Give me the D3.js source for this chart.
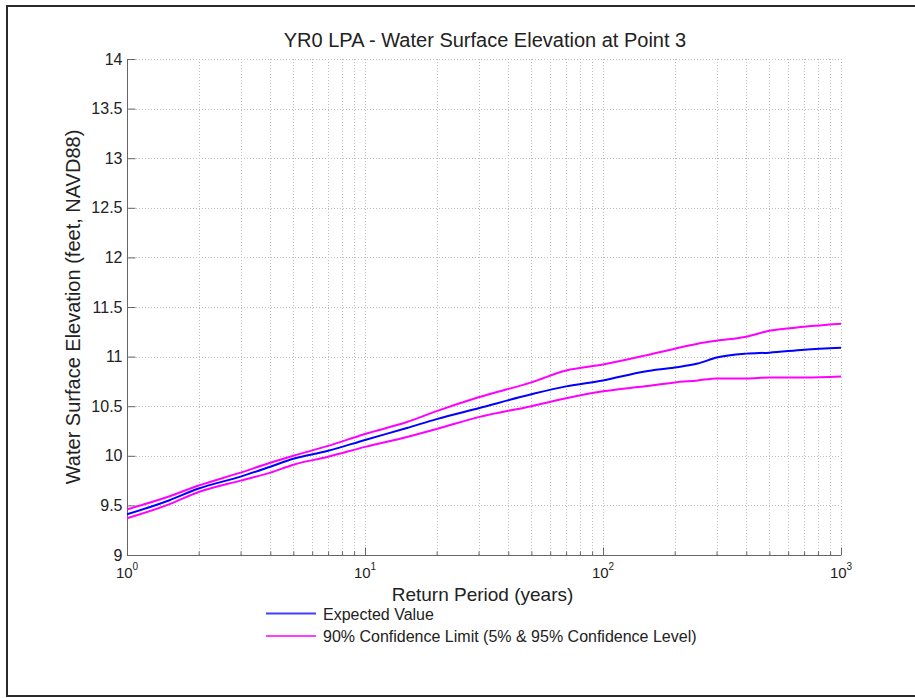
<!DOCTYPE html>
<html>
<head>
<meta charset="utf-8">
<script src="https://cdn.jsdelivr.net/npm/d3@7"></script>
<style>
  html, body { margin: 0; padding: 0; background: #fff; }
  svg { display: block; font-family: Arial, "Liberation Sans", Helvetica, sans-serif; }
</style>
</head>
<body>
<svg id="chart" width="915" height="698"></svg>
<script>
const titleText = "YR0 LPA - Water Surface Elevation at Point 3";
const xLabelText = "Return Period (years)";
const yLabelText = "Water Surface Elevation (feet, NAVD88)";

const returnPeriods = [1, 1.5, 2, 3, 4, 5, 7, 10, 15, 20, 30, 50, 70, 100, 150, 200, 250, 300, 400, 500, 700, 1000];
const expectedValue = [9.41, 9.55, 9.67, 9.79, 9.89, 9.97, 10.05, 10.16, 10.28, 10.37, 10.48, 10.62, 10.70, 10.76, 10.85, 10.89, 10.93, 10.99, 11.03, 11.04, 11.07, 11.09];
const upper95 = [9.46, 9.59, 9.70, 9.83, 9.93, 10.00, 10.10, 10.22, 10.34, 10.45, 10.59, 10.74, 10.86, 10.92, 11.01, 11.08, 11.13, 11.16, 11.20, 11.26, 11.30, 11.33];
const lower5 = [9.37, 9.51, 9.635, 9.75, 9.83, 9.91, 9.99, 10.09, 10.19, 10.27, 10.39, 10.50, 10.58, 10.65, 10.70, 10.74, 10.76, 10.78, 10.78, 10.79, 10.79, 10.80];

const yTicks = [9, 9.5, 10, 10.5, 11, 11.5, 12, 12.5, 13, 13.5, 14];
const xMajorExps = [0, 1, 2, 3];
const legendLabels = ["Expected Value", "90% Confidence Limit (5% & 95% Confidence Level)"];
const legendColors = ["#0000ff", "#ff00ff"];

const svg = d3.select("#chart");
const L = 127, R = 841, T = 59, B = 555;

const x = d3.scaleLog().domain([1, 1000]).range([L, R]);
const y = d3.scaleLinear().domain([9, 14]).range([B, T]);

// outer frame (right edge falls outside the picture)
svg.append("rect").attr("x", 7).attr("y", 6).attr("width", 1000).attr("height", 690)
  .attr("fill", "none").attr("stroke", "#2a2a2a").attr("stroke-width", 2);

// minor + major x values
const xAll = [];
for (let e = 0; e < 3; e++) for (let m = 1; m < 10; m++) xAll.push(m * Math.pow(10, e));
xAll.push(1000);

// grid
const grid = svg.append("g").attr("stroke", "#bdbdbd").attr("stroke-width", 1).attr("stroke-dasharray", "1,2");
grid.selectAll("line.gx").data(xAll.filter(v => v > 1)).join("line")
  .attr("x1", d => Math.round(x(d)) + 0.5).attr("x2", d => Math.round(x(d)) + 0.5)
  .attr("y1", T).attr("y2", B);
grid.selectAll("line.gy").data(yTicks.filter(v => v > 9)).join("line")
  .attr("x1", L).attr("x2", R)
  .attr("y1", d => Math.round(y(d)) + 0.5).attr("y2", d => Math.round(y(d)) + 0.5);

// axes
const axisColor = "#666";
const yAxis = d3.axisLeft(y).tickValues(yTicks).tickSize(-8).tickPadding(5).tickFormat(d3.format("~g"));
const gy = svg.append("g").attr("transform", `translate(${L + 0.5},0)`).call(yAxis);
gy.select(".domain").attr("stroke", axisColor).attr("d", `M0,${T}V${B}`);
gy.selectAll(".tick line").attr("stroke", axisColor);
gy.selectAll(".tick text").attr("font-size", 16).attr("fill", "#222").attr("font-family", "Arial, 'Liberation Sans', sans-serif");

const majorVals = xMajorExps.map(e => Math.pow(10, e));
const xAxisMinor = d3.axisBottom(x).tickValues(xAll.filter(v => !majorVals.includes(v))).tickSize(-4).tickFormat("");
const gxm = svg.append("g").attr("transform", `translate(0,${B + 0.5})`).call(xAxisMinor);
gxm.select(".domain").remove();
gxm.selectAll(".tick line").attr("stroke", axisColor);

const xAxis = d3.axisBottom(x).tickValues(majorVals).tickSize(-8).tickFormat("");
const gx = svg.append("g").attr("transform", `translate(0,${B + 0.5})`).call(xAxis);
gx.select(".domain").attr("stroke", axisColor).attr("d", `M${L},0H${R}`);
gx.selectAll(".tick line").attr("stroke", axisColor);

// x tick labels 10^n
const xl = svg.append("g").attr("fill", "#222").attr("font-family", "Arial, 'Liberation Sans', sans-serif");
xMajorExps.forEach(e => {
  const t = xl.append("text").attr("x", x(Math.pow(10, e))).attr("y", 578).attr("text-anchor", "middle").attr("font-size", 15);
  t.append("tspan").text("10");
  t.append("tspan").attr("font-size", 10).attr("dy", -8).text(e);
});

// lines
const line = d3.line().x(d => x(d[0])).y(d => y(d[1])).curve(d3.curveMonotoneX);
const series = [
  { vals: upper95, color: "#ff00ff" },
  { vals: lower5, color: "#ff00ff" },
  { vals: expectedValue, color: "#0000ff" }
];
svg.append("g").selectAll("path").data(series).join("path")
  .attr("d", s => line(returnPeriods.map((p, i) => [p, s.vals[i]])))
  .attr("fill", "none").attr("stroke", s => s.color).attr("stroke-width", 2);

// title and labels
svg.append("text").attr("x", (L + R) / 2 + 1).attr("y", 47).attr("text-anchor", "middle")
  .attr("font-size", 20).attr("fill", "#222").text(titleText);
svg.append("text").attr("x", (L + R) / 2 - 1.5).attr("y", 601).attr("text-anchor", "middle")
  .attr("font-size", 19).attr("fill", "#222").text(xLabelText);
svg.append("text").attr("transform", `translate(80,${(T + B) / 2}) rotate(-90)`).attr("text-anchor", "middle")
  .attr("font-size", 20).attr("fill", "#222").text(yLabelText);

// legend
const lg = svg.append("g");
legendLabels.forEach((lab, i) => {
  const yy = 613.5 + i * 22.5;
  lg.append("line").attr("x1", 266).attr("x2", 316).attr("y1", yy).attr("y2", yy)
    .attr("stroke", legendColors[i]).attr("stroke-width", 2).attr("opacity", 0.75);
  lg.append("text").attr("x", 323).attr("y", yy + 6).attr("font-size", 16).attr("fill", "#222").text(lab);
});
</script>
</body>
</html>
